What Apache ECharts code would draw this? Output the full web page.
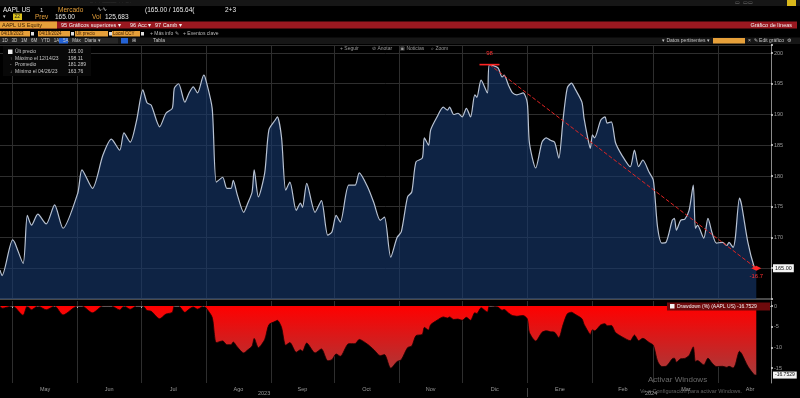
<!DOCTYPE html>
<html lang="es">
<head>
<meta charset="utf-8">
<title>AAPL US - Gráfico de líneas</title>
<script src="https://cdn.jsdelivr.net/npm/echarts@6/dist/echarts.min.js"></script>
<style>
	html, body { margin: 0; padding: 0; background: #000; }
	#chart { width: 800px; height: 398px; }
</style>
</head>
<body>
<div id="chart"></div>
<script>
// cierres (AAPL US, 1A)
var dates = ['2023-04-25', '2023-04-26', '2023-05-01', '2023-05-02', '2023-05-06', '2023-05-08', '2023-05-10', '2023-05-13', '2023-05-17', '2023-05-21', '2023-05-25',
	'2023-06-01', '2023-06-03', '2023-06-08', '2023-06-13', '2023-06-17', '2023-06-21', '2023-06-23', '2023-06-26', '2023-06-29',
	'2023-07-02', '2023-07-04', '2023-07-06', '2023-07-10', '2023-07-13', '2023-07-16', '2023-07-17', '2023-07-19', '2023-07-22', '2023-07-24', '2023-07-26', '2023-07-28', '2023-07-31',
	'2023-08-01', '2023-08-04', '2023-08-06', '2023-08-09', '2023-08-11', '2023-08-13', '2023-08-14', '2023-08-16', '2023-08-19', '2023-08-21', '2023-08-23', '2023-08-24', '2023-08-26', '2023-08-29', '2023-08-31',
	'2023-09-03', '2023-09-04', '2023-09-06', '2023-09-08', '2023-09-10', '2023-09-13', '2023-09-15', '2023-09-16', '2023-09-18', '2023-09-22', '2023-09-25', '2023-09-28', '2023-09-30',
	'2023-10-02', '2023-10-04', '2023-10-08', '2023-10-11', '2023-10-13', '2023-10-17', '2023-10-20', '2023-10-23', '2023-10-25', '2023-10-28', '2023-10-31',
	'2023-11-02', '2023-11-05', '2023-11-07', '2023-11-09', '2023-11-12', '2023-11-13', '2023-11-15', '2023-11-16', '2023-11-19', '2023-11-22', '2023-11-24', '2023-11-25', '2023-11-27', '2023-11-29',
	'2023-12-01', '2023-12-03', '2023-12-05', '2023-12-07', '2023-12-08', '2023-12-10', '2023-12-13', '2023-12-14', '2023-12-18', '2023-12-20', '2023-12-21', '2023-12-23', '2023-12-25', '2023-12-27', '2023-12-30',
	'2024-01-01', '2024-01-02', '2024-01-05', '2024-01-08', '2024-01-10', '2024-01-12', '2024-01-14', '2024-01-16', '2024-01-18', '2024-01-20', '2024-01-22', '2024-01-24', '2024-01-27', '2024-01-28', '2024-01-30', '2024-01-31',
	'2024-02-01', '2024-02-02', '2024-02-05', '2024-02-07', '2024-02-08', '2024-02-10', '2024-02-12', '2024-02-15', '2024-02-19', '2024-02-21', '2024-02-23', '2024-02-25', '2024-02-28',
	'2024-03-01', '2024-03-03', '2024-03-05', '2024-03-07', '2024-03-10', '2024-03-11', '2024-03-12', '2024-03-14', '2024-03-16', '2024-03-18', '2024-03-20', '2024-03-21', '2024-03-22', '2024-03-25', '2024-03-27', '2024-03-29', '2024-03-31',
	'2024-04-03', '2024-04-05', '2024-04-06', '2024-04-08', '2024-04-09', '2024-04-11', '2024-04-12', '2024-04-15', '2024-04-18', '2024-04-19'];
var prices = [164.7, 163.8, 169.6, 169.2, 165.8, 173.6, 172.0, 173.8, 172.2, 175.3, 171.5,
	177.2, 181.0, 178.0, 183.4, 186.0, 184.2, 187.0, 185.5, 189.0,
	194.0, 191.9, 191.5, 188.0, 190.2, 191.0, 194.3, 195.0, 192.0, 193.5, 194.5, 193.5, 196.4,
	195.6, 191.0, 179.0, 179.8, 178.0, 178.0, 179.3, 176.9, 174.1, 175.6, 177.4, 181.0, 176.6, 180.5, 187.5,
	189.1, 189.6, 186.3, 177.7, 179.0, 174.4, 175.6, 174.9, 178.8, 174.1, 176.0, 170.4, 170.9,
	173.6, 172.5, 178.5, 178.5, 180.5, 178.2, 175.6, 172.8, 173.3, 166.8, 170.0,
	170.9, 176.6, 177.4, 182.3, 182.9, 186.2, 185.0, 187.5, 189.6, 191.2, 190.7, 191.2, 190.0, 190.2,
	189.6, 191.0, 189.6, 193.2, 192.8, 195.6, 193.5, 198.11, 197.6, 196.1, 196.4, 194.8, 193.5, 193.2, 193.5,
	191.9, 185.4, 181.3, 185.5, 186.2, 185.8, 185.5, 182.9, 189.1, 194.3, 195.1, 194.0, 192.0, 189.4, 185.8, 184.5,
	186.7, 186.2, 189.1, 189.6, 188.6, 188.8, 185.4, 183.4, 181.5, 184.2, 181.5, 182.6, 180.6,
	179.3, 171.7, 169.1, 169.2, 172.8, 173.1, 171.2, 172.8, 173.0, 174.4, 178.5, 171.5, 172.0, 169.9, 173.1, 170.7, 169.1,
	169.2, 168.7, 169.2, 168.4, 169.9, 176.4, 175.3, 169.2, 165.2, 165.0];

var monthStarts = ['2023-05-01', '2023-06-01', '2023-07-01', '2023-08-01', '2023-09-01', '2023-10-01',
	'2023-11-01', '2023-12-01', '2024-01-01', '2024-02-01', '2024-03-01', '2024-04-01'];
var monthNames = ['May', 'Jun', 'Jul', 'Ago', 'Sep', 'Oct', 'Nov', 'Dic', 'Ene', 'Feb', 'Mar', 'Abr'];
var ddTicks = [0, -5, -10, -15];

var statsLabels = ['Últ precio', 'Máximo el 12/14/23', 'Promedio', 'Mínimo el 04/26/23'];
var statsValues = ['165.00', '198.11', '181.289', '163.76'];
var lastTag = '165.00';
var ddTag = '-16.7529';

var FONT = '"Liberation Sans", Arial, sans-serif';

function ts(s) { return new Date(s + 'T00:00:00').getTime(); }

// serie de drawdown (% desde el maximo acumulado)
var runMax = 0;
var drawdown = prices.map(function(p) {
	runMax = Math.max(runMax, p);
	return +(100 * (p / runMax - 1)).toFixed(3);
});

var pricePts = dates.map(function(d, i) { return [ts(d), prices[i]]; });
var ddPts = dates.map(function(d, i) { return [ts(d), drawdown[i]]; });

var peakIdx = prices.indexOf(Math.max.apply(null, prices));
var lastIdx = prices.length - 1;

var tickVals = monthStarts.map(ts);
var monthMids = tickVals.map(function(a, i) {
	var b = i < tickVals.length - 1 ? tickVals[i + 1] : a + 30 * 864e5;
	return (a + b) / 2;
});
var xMin = ts('2023-04-25'), xMax = ts('2024-04-26');

function txt(x, y, s, color, size, align) {
	return {
		type: 'text', x: x, y: y, silent: true, z: 10,
		style: { text: s, fill: color, fontSize: size || 6, fontFamily: FONT, align: align || 'left', verticalAlign: 'middle' }
	};
}
function box(x, y, w, h, fill) {
	return { type: 'rect', silent: true, z: 9, shape: { x: x, y: y, width: w, height: h }, style: { fill: fill } };
}

var ORANGE = '#e6a03a';
var header = [
	box(0, 0, 800, 6, '#161616'),
	txt(90, 3, '─  ·  ·  ─────  ·  ·  ─ ·', '#444', 4),
	box(787, 0, 9, 6, '#d9b81c'),
	txt(735, 3, '▭  ▭▭', '#777', 5),
	// fila 1
	txt(3, 10.5, 'AAPL US', '#e8e8e8', 6.5),
	txt(40, 10.5, '1', '#cfcfcf', 6),
	txt(58, 10.5, 'Mercado', ORANGE, 6.5),
	txt(97, 9.5, '∿∿', '#cfcfcf', 6),
	txt(145, 10.5, '(165.00 / 165.64(', '#e8e8e8', 6.5),
	txt(225, 10.5, '2+3', '#e8e8e8', 6.5),
	// fila 2
	txt(3, 17, '▾', '#cfcfcf', 5),
	box(13, 13.5, 9, 6.5, '#dcc21e'),
	txt(14.5, 17, '22', '#222', 5),
	txt(35, 17, 'Prev', ORANGE, 6.5),
	txt(55, 17, '165.00', '#e8e8e8', 6.5),
	txt(92, 17, 'Vol', ORANGE, 6.5),
	txt(105, 17, '125,683', '#e8e8e8', 6.5),
	// barra roja
	box(0, 21.5, 797, 7, '#9a1820'),
	box(0, 21.5, 57, 7, ORANGE),
	txt(2, 25, 'AAPL US Equity', '#3a1c00', 5.5),
	txt(61, 25, '95 Gráficos superiores ▾', '#f2f2f2', 5.5),
	txt(130, 25, '96 Acc ▾', '#f2f2f2', 5.5),
	txt(155, 25, '97 Camb ▾', '#f2f2f2', 5.5),
	txt(792, 25, 'Gráfico de líneas', '#f2f2f2', 5.5, 'right'),
	// fila de fechas
	box(0, 31, 30, 5.5, ORANGE), box(31, 32, 3, 3.5, '#ddd'),
	box(38, 31, 32, 5.5, ORANGE), box(71, 32, 3, 3.5, '#ddd'),
	box(75, 31, 33, 5.5, ORANGE), box(109, 32, 3, 3.5, '#ddd'),
	box(112, 31, 28, 5.5, ORANGE), box(141, 32, 3, 3.5, '#ddd'),
	txt(1, 34, '04/19/2023', '#3a1c00', 4.5),
	txt(39, 34, '04/19/2024', '#3a1c00', 4.5),
	txt(76, 34, 'Últ precio', '#3a1c00', 4.5),
	txt(113, 34, 'Local CCY', '#3a1c00', 4.5),
	txt(150, 34, '+ Más info ✎', '#b8b8b8', 5),
	txt(183, 34, '+ Eventos clave', '#b8b8b8', 5),
	// fila de periodos
	box(0, 37.5, 800, 6.5, '#161616'),
	box(0, 38, 118, 5.5, '#262626'),
	box(59, 38, 9, 5.5, '#2462d4'),
	box(121, 38, 7, 5.5, '#2462d4'),
	txt(2, 41, '1D   3D   1M   6M   YTD   1A   5A   Máx   Diaria ▾', '#c4c4c4', 4.5),
	txt(132, 41, '⊞', '#c4c4c4', 5),
	txt(153, 41, 'Tabla', '#c4c4c4', 5),
	txt(662, 41, '▾ Datos pertinentes ▾', '#c4c4c4', 5),
	box(713, 38, 32, 5.5, ORANGE),
	txt(748, 41, '×  ✎ Edit gráfico  ⚙', '#c4c4c4', 5),
	// botones del grafico
	txt(340, 48.5, '+ Seguir', '#9a9a9a', 5),
	txt(372, 48.5, '⊘ Anotar', '#9a9a9a', 5),
	txt(400, 48.5, '▣ Noticias', '#9a9a9a', 5),
	txt(431, 48.5, '⌕ Zoom', '#9a9a9a', 5),
	// cuadro de estadisticas
	box(3, 46, 88, 30, '#080808'),
	box(8, 49.5, 4.5, 4.5, '#f0f0f0'),
	txt(10, 58.5, '↑', '#aaa', 4.5),
	txt(10, 65, '-', '#aaa', 4.5),
	txt(10, 71.5, '↓', '#aaa', 4.5)
];
statsLabels.forEach(function(s, i) {
	header.push(txt(15, 52 + i * 6.5, s, '#c8c8c8', 5));
	header.push(txt(68, 52 + i * 6.5, statsValues[i], '#c8c8c8', 5));
});
header.push(
	// leyenda del panel inferior
	box(667, 302.5, 103, 8, '#6e0a0c'),
	box(670, 304, 4.5, 4.5, '#f2f2f2'),
	txt(677, 306.5, 'Drawdown (%) (AAPL US) -16.7529', '#f2f2f2', 5),
	// años
	txt(258, 393, '2023', '#9a9a9a', 5.5),
	txt(645, 393, '2024', '#9a9a9a', 5.5),
	box(527, 388, 0.8, 9, '#555'),
	// marca de agua
	txt(648, 380, 'Activar Windows', 'rgba(190,190,190,0.55)', 8),
	txt(640, 391.5, 'Ve a Configuración para activar Windows.', 'rgba(190,190,190,0.5)', 5.5)
);

var chart = echarts.init(document.getElementById('chart'));
var axisGray = '#8a8a8a';
var gridLine = '#2e2e2e';

var option = {
	backgroundColor: '#000',
	animation: false,
	grid: [
		{ left: 0, top: 45, width: 771, height: 254 },
		{ left: 0, top: 301, width: 771, height: 82 }
	],
	xAxis: [{
		type: 'value', gridIndex: 0, min: xMin, max: xMax,
		axisLine: { show: true, lineStyle: { color: '#4a4a4a', width: 2 } },
		axisTick: { show: false, customValues: tickVals },
		axisLabel: { show: false },
		splitLine: { show: true, lineStyle: { color: gridLine, width: 1 } }
	}, {
		type: 'value', gridIndex: 1, min: xMin, max: xMax,
		axisLine: { show: true, lineStyle: { color: axisGray, width: 1 } },
		axisTick: { show: true, length: 2, customValues: tickVals, lineStyle: { color: '#bbb' } },
		axisLabel: {
			customValues: monthMids, color: '#9a9a9a', fontSize: 5.5, fontFamily: FONT, margin: 3,
			formatter: function(v) {
				var best = 0;
				monthMids.forEach(function(m, i) { if (Math.abs(m - v) < Math.abs(monthMids[best] - v)) best = i; });
				return monthNames[best];
			}
		},
		splitLine: { show: true, lineStyle: { color: gridLine, width: 1 } }
	}],
	yAxis: [{
		type: 'value', gridIndex: 0, position: 'right', min: 160, max: 201.3, interval: 5,
		axisLine: { show: true, lineStyle: { color: axisGray } },
		axisTick: { show: true, length: 2, lineStyle: { color: '#ddd', width: 1.5 } },
		axisLabel: {
			color: '#9a9a9a', fontSize: 5.5, fontFamily: FONT, margin: 3,
			formatter: function(v) { return (v >= 170 && v <= 200) ? String(v) : ''; }
		},
		splitLine: { show: true, lineStyle: { color: gridLine } }
	}, {
		type: 'value', gridIndex: 1, position: 'right', min: -18.63, max: 1.21,
		axisLine: { show: true, lineStyle: { color: axisGray } },
		axisTick: { show: true, length: 2, customValues: ddTicks, lineStyle: { color: '#ddd', width: 1.5 } },
		axisLabel: { customValues: ddTicks, color: '#9a9a9a', fontSize: 5.5, fontFamily: FONT, margin: 3 },
		splitLine: { show: false }
	}],
	series: [{
		name: 'AAPL US',
		type: 'line',
		xAxisIndex: 0, yAxisIndex: 0,
		data: pricePts,
		showSymbol: false,
		smooth: 0.25,
		lineStyle: { color: '#b8c2d2', width: 1.2 },
		areaStyle: { color: '#16386e', opacity: 0.62 },
		markLine: {
			silent: true,
			symbol: ['none', 'none'],
			data: [
				[{ coord: pricePts[peakIdx] }, { coord: pricePts[lastIdx] }],
				{
					yAxis: prices[lastIdx],
					lineStyle: { color: 'rgba(0,0,0,0)', width: 0 },
					label: {
						show: true, position: 'end', distance: 2, formatter: lastTag,
						color: '#111', backgroundColor: '#f4f4f4', padding: [1, 2], fontSize: 5.5, fontFamily: FONT
					}
				}
			],
			lineStyle: { color: '#e02424', type: 'dashed', width: 1 },
			label: { show: false }
		},
		markPoint: {
			silent: true,
			data: [{
				coord: pricePts[peakIdx],
				symbol: 'rect', symbolSize: [20, 1.6],
				itemStyle: { color: '#ff2424' },
				label: { show: true, position: 'top', distance: 7, formatter: '98', color: '#ff3030', fontSize: 6, fontFamily: FONT }
			}, {
				coord: pricePts[lastIdx],
				symbol: 'diamond', symbolSize: [10, 5],
				itemStyle: { color: '#ff2424' },
				label: { show: true, position: 'bottom', distance: 3, formatter: '-16.7', color: '#ff3030', fontSize: 6, fontFamily: FONT }
			}]
		}
	}, {
		name: 'Drawdown (%) (AAPL US)',
		type: 'line',
		xAxisIndex: 1, yAxisIndex: 1,
		data: ddPts,
		showSymbol: false,
		smooth: 0.25,
		lineStyle: { color: '#1a0000', width: 0.8 },
		areaStyle: {
			opacity: 1,
			color: new echarts.graphic.LinearGradient(0, 0, 0, 1, [
				{ offset: 0, color: '#ff0000' },
				{ offset: 1, color: '#a83a3a' }
			])
		},
		markLine: {
			silent: true,
			symbol: ['none', 'none'],
			data: [{
				yAxis: drawdown[lastIdx],
				lineStyle: { color: 'rgba(0,0,0,0)', width: 0 },
				label: {
					show: true, position: 'end', distance: 2, formatter: ddTag,
					color: '#111', backgroundColor: '#f4f4f4', padding: [1, 2], fontSize: 5, fontFamily: FONT
				}
			}]
		}
	}],
	graphic: header
};
chart.setOption(option);
</script>
</body>
</html>
